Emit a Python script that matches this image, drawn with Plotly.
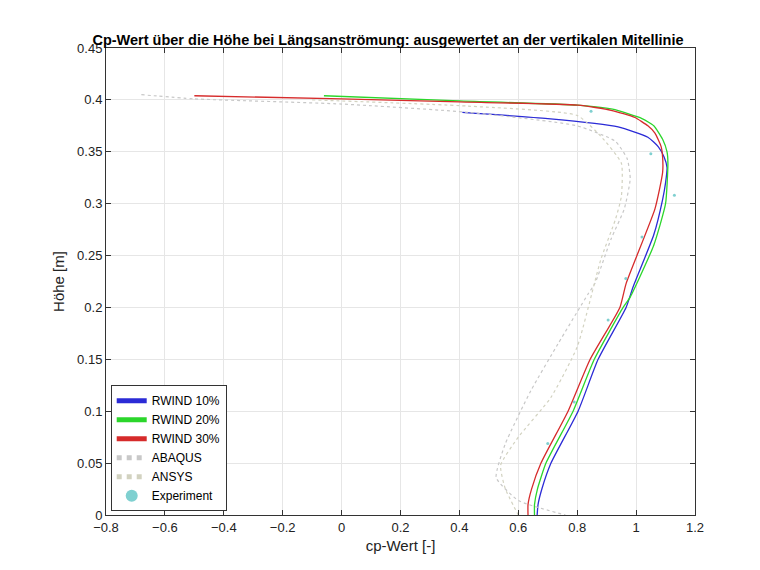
import plotly.graph_objects as go

r10_x = [0.41, 0.70, 0.939, 1.04, 1.075, 1.095, 1.105, 1.10, 1.09, 1.06, 0.99, 0.966, 0.871, 0.803, 0.711, 0.68, 0.667, 0.664]
r10_y = [0.388, 0.382, 0.374, 0.364, 0.355, 0.345, 0.335, 0.32, 0.304, 0.27, 0.22, 0.20, 0.15, 0.10, 0.05, 0.025, 0.01, 0.0]
r20_x = [-0.06, 0.4, 0.8, 0.92, 1.02, 1.06, 1.09, 1.105, 1.108, 1.10, 1.06, 0.98, 0.956, 0.858, 0.786, 0.694, 0.665, 0.655, 0.655]
r20_y = [0.404, 0.399, 0.395, 0.391, 0.382, 0.375, 0.362, 0.35, 0.339, 0.30, 0.26, 0.21, 0.20, 0.15, 0.10, 0.05, 0.025, 0.01, 0.0]
r30_x = [-0.5, 0.0, 0.4, 0.803, 0.915, 0.996, 1.04, 1.064, 1.085, 1.09, 1.09, 1.064, 0.966, 0.945, 0.844, 0.769, 0.677, 0.645, 0.633, 0.633]
r30_y = [0.404, 0.401, 0.398, 0.395, 0.390, 0.383, 0.375, 0.368, 0.355, 0.345, 0.33, 0.295, 0.223, 0.20, 0.15, 0.10, 0.05, 0.025, 0.01, 0.0]
abaqus_x = [-0.68, -0.5, 0.0, 0.43, 0.80, 0.93, 0.97, 0.98, 0.96, 0.915, 0.86, 0.837, 0.735, 0.643, 0.555, 0.525, 0.60, 0.76]
abaqus_y = [0.405, 0.401, 0.396, 0.388, 0.375, 0.36, 0.343, 0.324, 0.295, 0.266, 0.223, 0.213, 0.165, 0.12, 0.068, 0.036, 0.014, 0.0]
ansys_x = [-0.1, 0.43, 0.80, 0.88, 0.95, 0.95, 0.93, 0.88, 0.80, 0.71, 0.60, 0.54, 0.555, 0.60]
ansys_y = [0.400, 0.394, 0.385, 0.365, 0.339, 0.307, 0.285, 0.246, 0.162, 0.113, 0.075, 0.048, 0.026, 0.0]
exp_x = [0.847, 1.05, 1.13, 1.02, 0.965, 0.905, 0.79, 0.70]
exp_y = [0.389, 0.348, 0.308, 0.268, 0.228, 0.188, 0.109, 0.069]

fig = go.Figure()
fig.add_trace(go.Scatter(x=r10_x, y=r10_y, mode="lines", name="RWIND 10%", line=dict(color="#2b2bd6", width=1.3, shape="spline", smoothing=0.5)))
fig.add_trace(go.Scatter(x=r20_x, y=r20_y, mode="lines", name="RWIND 20%", line=dict(color="#2bd62b", width=1.3, shape="spline", smoothing=0.5)))
fig.add_trace(go.Scatter(x=r30_x, y=r30_y, mode="lines", name="RWIND 30%", line=dict(color="#d62b2b", width=1.3, shape="spline", smoothing=0.5)))
fig.add_trace(go.Scatter(x=abaqus_x, y=abaqus_y, mode="lines", name="ABAQUS", line=dict(color="#c8c8c8", width=1.2, dash="dot", shape="spline", smoothing=0.5)))
fig.add_trace(go.Scatter(x=ansys_x, y=ansys_y, mode="lines", name="ANSYS", line=dict(color="#d2d2c0", width=1.2, dash="dot", shape="spline", smoothing=0.5)))
fig.add_trace(go.Scatter(x=exp_x, y=exp_y, mode="markers", name="Experiment", marker=dict(color="#7fd0d0", size=3)))

ax = dict(showgrid=True, gridcolor="#e6e6e6", zeroline=False, showline=True, linecolor="#333", linewidth=1,
          mirror="ticks", ticks="inside", ticklen=5, tickcolor="#333", tickfont=dict(size=13, color="#222"))
fig.update_layout(
    width=760, height=570, plot_bgcolor="white", paper_bgcolor="white",
    margin=dict(l=98, r=73, t=40, b=63),
    font=dict(family="Liberation Sans, Arial", color="#222"),
    title=dict(text="<b>Cp-Wert über die Höhe bei Längsanströmung: ausgewertet an der vertikalen Mitellinie</b>",
               x=0.5, xanchor="center", y=0.935, yanchor="bottom", font=dict(size=14.5, color="#000")),
    xaxis=dict(ax, range=[-0.8, 1.2], dtick=0.2, title=dict(text="cp-Wert [-]", font=dict(size=15), standoff=6)),
    yaxis=dict(ax, range=[0, 0.45], dtick=0.05, title=dict(text="Höhe [m]", font=dict(size=15), standoff=8)),
    legend=dict(x=0.008, y=0.008, xanchor="left", yanchor="bottom", bgcolor="white", bordercolor="#333", borderwidth=1,
                font=dict(size=12, color="#000"), tracegroupgap=0, itemwidth=30, itemsizing="constant"),
    showlegend=True,
)
fig.write_html("out.html")
